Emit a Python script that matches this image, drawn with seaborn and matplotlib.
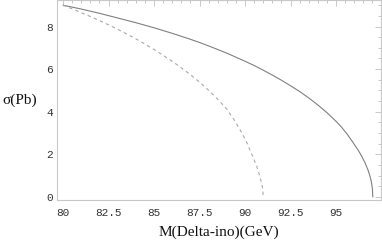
import matplotlib
matplotlib.use("Agg")
import matplotlib.pyplot as plt
import seaborn as sns
import pandas as pd
from matplotlib.ticker import MultipleLocator

# Data
mass_solid = [80, 80.5, 81, 81.5, 82, 82.5, 83, 83.5, 84, 84.5, 85, 85.5, 86,
              86.5, 87, 87.5, 88, 88.5, 89, 89.5, 90, 90.5, 91, 91.5, 92, 92.5,
              93, 93.5, 94, 94.5, 95, 95.3, 95.6, 95.9, 96.2, 96.4, 96.6, 96.75,
              96.85, 96.92, 96.97, 97.0, 97.02]
sigma_solid = [9.00, 8.91, 8.82, 8.72, 8.62, 8.51, 8.40, 8.29, 8.18, 8.06, 7.94,
               7.81, 7.68, 7.54, 7.40, 7.25, 7.09, 6.92, 6.75, 6.56, 6.37, 6.17,
               5.95, 5.72, 5.48, 5.22, 4.95, 4.65, 4.32, 3.96, 3.55, 3.28, 2.96,
               2.60, 2.22, 1.93, 1.59, 1.28, 1.02, 0.79, 0.56, 0.35, 0.0]

mass_dashed = [80, 80.5, 81, 81.5, 82, 82.5, 83, 83.5, 84, 84.5, 85, 85.5, 86,
               86.5, 87, 87.5, 88, 88.5, 89, 89.4, 89.8, 90.1, 90.4, 90.64,
               90.8, 90.92, 90.97, 91.0]
sigma_dashed = [9.00, 8.83, 8.65, 8.47, 8.28, 8.08, 7.87, 7.65, 7.42, 7.18, 6.92,
                6.65, 6.37, 6.06, 5.74, 5.39, 5.01, 4.59, 4.12, 3.62, 3.05, 2.55,
                1.95, 1.45, 1.00, 0.62, 0.38, 0.0]

x_ticks = [80, 82.5, 85, 87.5, 90, 92.5, 95]
x_tick_labels = ["80", "82.5", "85", "87.5", "90", "92.5", "95"]
y_ticks = [0, 2, 4, 6, 8]

df_s = pd.DataFrame({"M": mass_solid, "sigma": sigma_solid})
df_d = pd.DataFrame({"M": mass_dashed, "sigma": sigma_dashed})

sns.set_style("white")
fig = plt.figure(figsize=(3.82, 2.46), dpi=100)
ax = fig.add_axes([57/382, 46/246, 324/382, 199.5/246])

sns.lineplot(data=df_s, x="M", y="sigma", ax=ax, sort=False, color="#808080",
             linewidth=0.8, estimator=None)
sns.lineplot(data=df_d, x="M", y="sigma", ax=ax, sort=False, color="#a8a8a8",
             linewidth=0.8, estimator=None, linestyle=(0, (3, 3)))

ax.set_xlim(79.67, 97.47)
ax.set_ylim(-0.14, 9.22)
ax.set_xticks(x_ticks)
ax.set_xticklabels(x_tick_labels)
ax.set_yticks(y_ticks)
ax.xaxis.set_minor_locator(MultipleLocator(0.5))
ax.yaxis.set_minor_locator(MultipleLocator(0.5))

for s in ax.spines.values():
    s.set_visible(True)
    s.set_color("#c8c8c8")
    s.set_linewidth(0.8)

ax.tick_params(which="both", direction="in", top=True, right=True,
               color="#c0c0c0", width=0.6)
ax.tick_params(which="major", length=4, labelsize=8, labelcolor="#333333")
ax.tick_params(which="minor", length=2)
ax.tick_params(axis="x", which="major", pad=5.5)
ax.tick_params(axis="y", which="major", pad=3)
for lab in ax.get_xticklabels() + ax.get_yticklabels():
    lab.set_family(["Liberation Mono", "DejaVu Sans Mono"])

ax.set_xlabel("M(Delta-ino)(GeV)", family=["Liberation Serif", "DejaVu Serif"],
              fontsize=11, labelpad=6, color="#111111")
ax.set_ylabel("σ(Pb)", family=["Liberation Serif", "DejaVu Serif"],
              fontsize=11, rotation=0, color="#111111", va="center")
ax.yaxis.set_label_coords(-0.115, 0.5)

fig.savefig("out.png", dpi=100)
